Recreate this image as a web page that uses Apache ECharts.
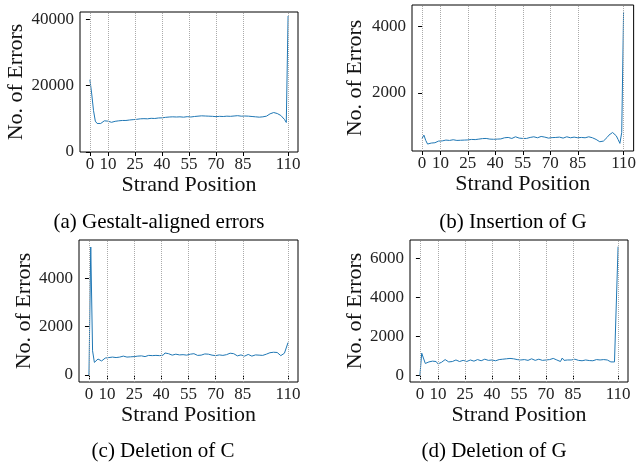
<!DOCTYPE html>
<html>
<head>
<meta charset="utf-8">
<script src="https://cdn.jsdelivr.net/npm/echarts@6/dist/echarts.min.js"></script>
<style>
  html, body { margin: 0; padding: 0; background: #fff; }
  #chart { width: 639px; height: 466px; }
</style>
</head>
<body>
<div id="chart"></div>
<script>
// x tick positions shared by all four panels
const xTicks = [0, 10, 25, 40, 55, 70, 85, 110];

// (a) Gestalt-aligned errors, positions 0..110
const gestaltErrors = [
  21800, 17500, 12500, 9300, 8600, 8450, 8600, 9000, 9400, 9500,
  9300, 9000, 8950, 9200, 9250, 9300, 9400, 9350, 9500, 9550,
  9500, 9700, 9650, 9800, 9750, 9900, 9850, 9950, 10000, 9900,
  10050, 10100, 10000, 10200, 10150, 10300, 10100, 10350, 10250, 10400,
  10300, 10350, 10450, 10400, 10550, 10500, 10600, 10450, 10550, 10500,
  10600, 10550, 10500, 10600, 10650, 10500, 10550, 10600, 10700, 10650,
  10800, 10700, 10900, 10750, 10850, 10700, 10800, 10650, 10750, 10700,
  10650, 10800, 10750, 10900, 10700, 10750, 10800, 10850, 10750, 10900,
  10850, 10800, 10950, 10850, 10800, 10900, 10850, 11000, 10800, 10900,
  10700, 10650, 10600, 10550, 10500, 10550, 10600, 10700, 10800, 11100,
  11500, 11800, 11900, 11850, 11600, 11300, 11000, 10500, 9800, 8900,
  41000
];

// (b) Insertion of G
const insertionG = [
  620, 720, 560, 450, 470, 480, 500, 490, 530, 540,
  550, 545, 520, 570, 540, 560, 555, 580, 570, 560,
  575, 565, 580, 570, 560, 575, 560, 590, 600, 585,
  610, 600, 595, 615, 600, 620, 610, 600, 605, 595,
  590, 600, 620, 605, 630, 640, 610, 650, 630, 620,
  640, 670, 650, 630, 640, 620, 570, 620, 640, 650,
  630, 670, 650, 640, 660, 680, 690, 660, 640, 630,
  650, 645, 630, 650, 640, 660, 650, 630, 660, 670,
  650, 640, 680, 660, 650, 640, 630, 650, 660, 640,
  660, 670, 650, 640, 620, 590, 550, 520, 515, 540,
  590, 650, 720, 780, 800, 760, 700, 590, 470, 800,
  4450
];

// (c) Deletion of C
const deletionC = [
  0, 5290, 1000, 520, 600, 660, 620, 580, 660, 700,
  740, 720, 760, 740, 750, 720, 770, 740, 730, 780,
  700, 740, 760, 750, 800, 760, 820, 780, 760, 790,
  770, 760, 790, 810, 780, 800, 760, 810, 830, 800,
  790, 820, 910, 840, 880, 850, 820, 800, 860, 790,
  830, 880, 840, 800, 820, 850, 860, 840, 880, 830,
  810, 860, 820, 850, 870, 830, 860, 900, 820, 780,
  800, 850, 830, 860, 810, 880, 840, 820, 900, 840,
  880, 820, 790, 800, 830, 810, 780, 820, 850, 800,
  780, 810, 830, 800, 820, 840, 810, 830, 860, 880,
  920, 930, 940, 920, 930, 900, 800, 850, 900, 980,
  1340
];

// (d) Deletion of G
const deletionG = [
  0, 1150, 1060, 620, 640, 700, 680, 740, 780, 720,
  600, 620, 680, 700, 820, 760, 700, 660, 720, 780,
  800, 760, 720, 740, 780, 750, 720, 780, 800, 760,
  740, 780, 820, 800, 760, 800, 840, 810, 780, 820,
  800, 830, 760, 780, 820, 800, 840, 820, 860, 800,
  880, 820, 860, 880, 820, 840, 800, 760, 820, 800,
  780, 820, 860, 800, 780, 810, 840, 800, 780, 790,
  800, 780, 820, 800, 880, 840, 800, 760, 720, 900,
  780, 820, 800, 860, 800, 820, 840, 800, 780, 820,
  760, 780, 800, 740, 770, 800, 760, 780, 820, 840,
  800, 780, 820, 840, 800, 740, 700, 690, 700, 760,
  6620
];

const panels = [
  { data: gestaltErrors, yTicks: [0, 20000, 40000], yMin: 0, yMax: 42200,
    grid: { left: 80, top: 12, width: 218, height: 140 }, yGap: 52,
    caption: '(a) Gestalt-aligned errors', cap: [159, 222] },
  { data: insertionG, yTicks: [2000, 4000], yMin: 240, yMax: 4657,
    grid: { left: 412, top: 5, width: 224, height: 146 }, yGap: 46,
    caption: '(b) Insertion of G', cap: [513, 222] },
  { data: deletionC, yTicks: [0, 2000, 4000], yMin: -290, yMax: 5580,
    grid: { left: 79, top: 240, width: 219, height: 142 }, yGap: 43,
    caption: '(c) Deletion of C', cap: [163, 451] },
  { data: deletionG, yTicks: [0, 2000, 4000, 6000], yMin: -331, yMax: 6960,
    grid: { left: 410, top: 240, width: 218, height: 142 }, yGap: 44,
    caption: '(d) Deletion of G', cap: [494, 451] },
];

const FONT = '"Liberation Serif", "DejaVu Serif", serif';
const grids = [], xAxes = [], yAxes = [], series = [], texts = [];

panels.forEach((p, i) => {
  grids.push(Object.assign({ show: true, borderColor: '#000', borderWidth: 1, containLabel: false }, p.grid));
  xAxes.push({
    type: 'value', gridIndex: i, min: -5.5, max: 115.5,
    name: 'Strand Position', nameLocation: 'middle', nameGap: 22,
    nameTextStyle: { fontFamily: FONT, fontSize: 22, color: '#111' },
    axisLine: { show: false },
    axisTick: { show: true, length: 4, customValues: xTicks, lineStyle: { color: '#000' } },
    axisLabel: { customValues: xTicks, margin: 4, fontFamily: FONT, fontSize: 17, color: '#222' },
    splitLine: { show: false },
  });
  yAxes.push({
    type: 'value', gridIndex: i, min: p.yMin, max: p.yMax,
    name: 'No. of Errors', nameLocation: 'middle', nameGap: p.yGap,
    nameTextStyle: { fontFamily: FONT, fontSize: 22, color: '#111' },
    axisLine: { show: false },
    axisTick: { show: true, length: 4, customValues: p.yTicks, lineStyle: { color: '#000' } },
    axisLabel: { customValues: p.yTicks, margin: 6, fontFamily: FONT, fontSize: 17, color: '#222',
      formatter: v => String(v) },
    splitLine: { show: false },
  });
  series.push({
    type: 'line', xAxisIndex: i, yAxisIndex: i,
    data: p.data.map((v, k) => [k, v]),
    showSymbol: false, lineStyle: { color: '#1f77b4', width: 1 },
    markLine: {
      silent: true, symbol: ['none', 'none'], label: { show: false },
      lineStyle: { type: 'dotted', color: '#aaa', width: 1 },
      data: xTicks.map(x => ({ xAxis: x })),
    },
  });
  texts.push({
    type: 'text', x: p.cap[0], y: p.cap[1],
    style: { text: p.caption, font: '21px ' + FONT, fill: '#000', align: 'center', verticalAlign: 'middle' },
  });
});

const chart = echarts.init(document.getElementById('chart'));
chart.setOption({
  animation: false,
  grid: grids,
  xAxis: xAxes,
  yAxis: yAxes,
  series: series,
  graphic: texts,
});
</script>
</body>
</html>
